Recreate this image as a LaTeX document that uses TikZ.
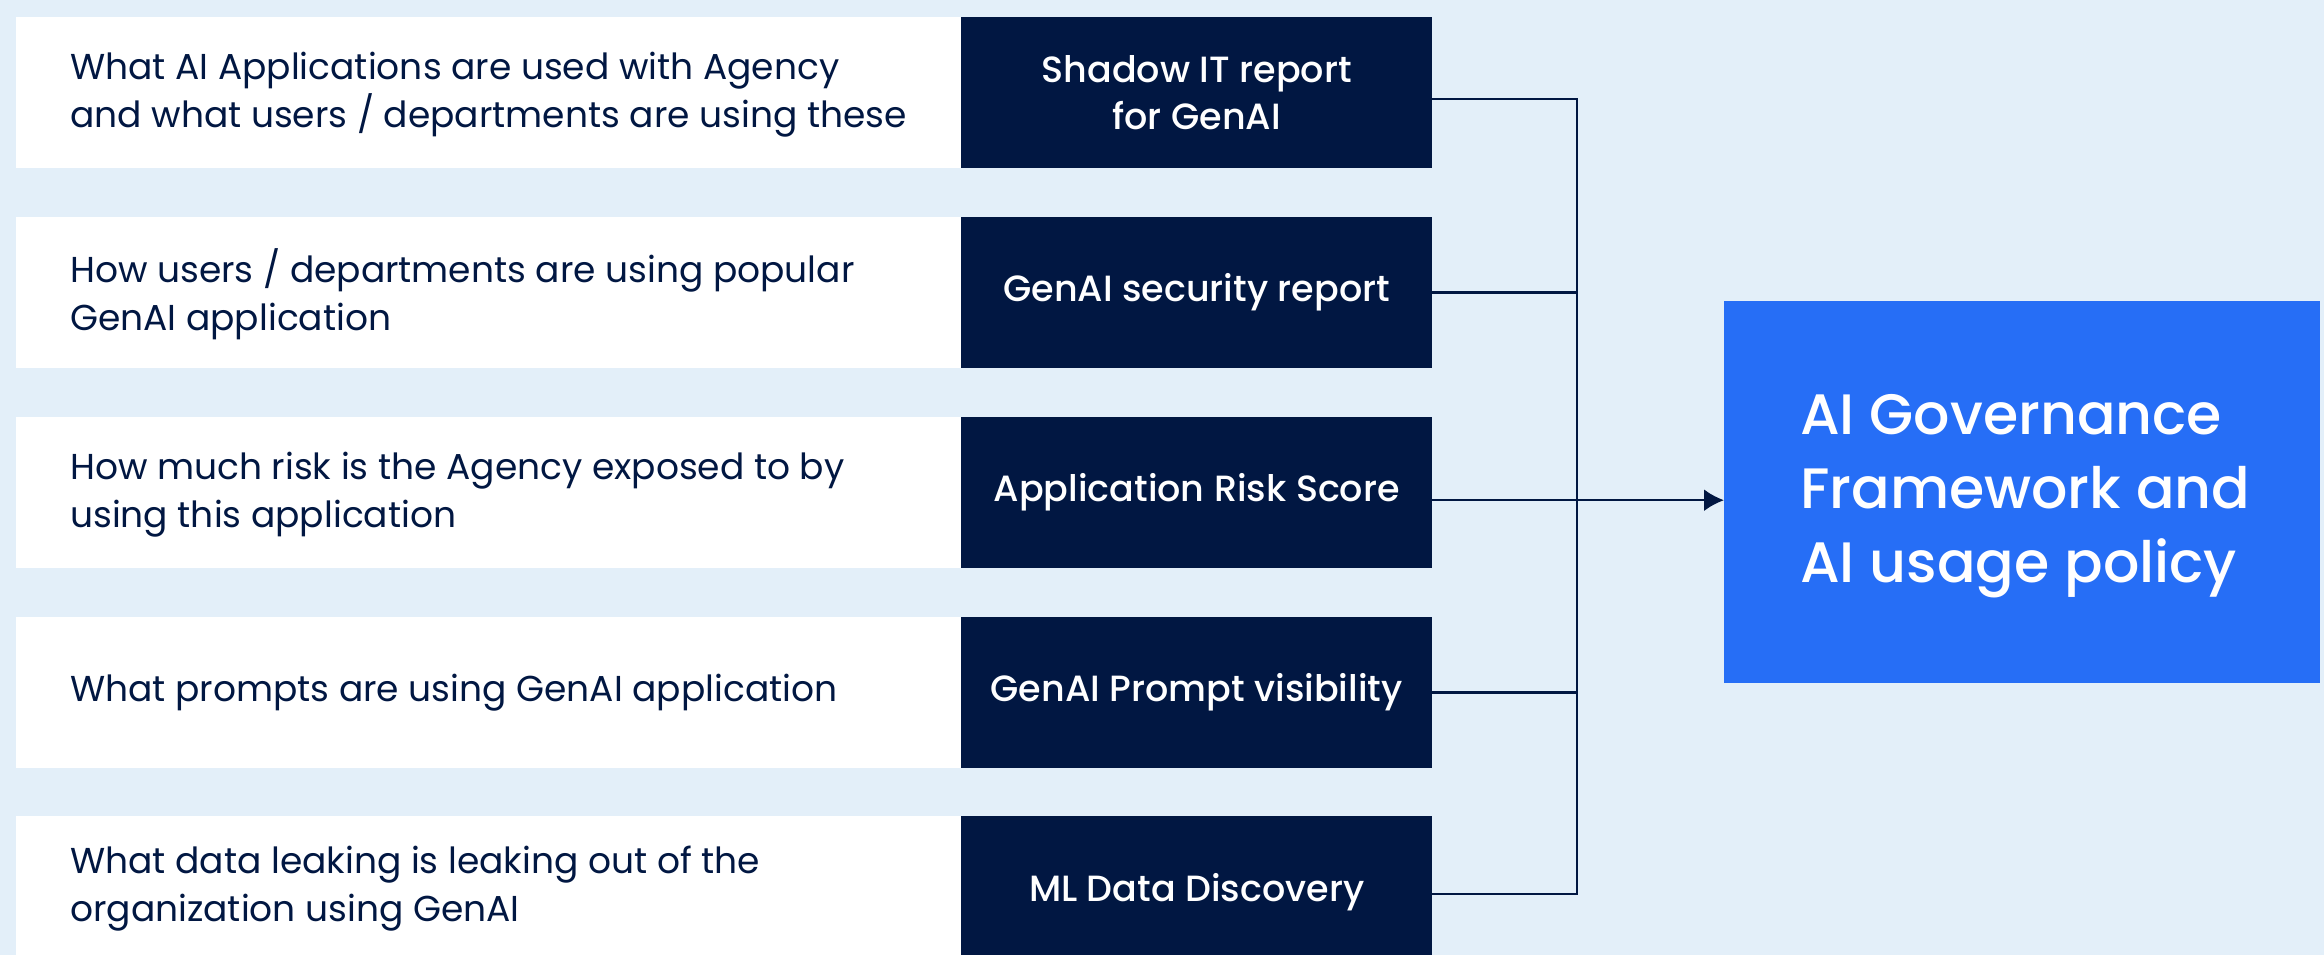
\documentclass[tikz,border=0pt]{standalone}
\usepackage{fontspec}
\usetikzlibrary{arrows.meta}
\setmainfont{Poppins}
\newfontfamily\medfont{Poppins Medium}
\definecolor{bg}{HTML}{E3EFF9}
\definecolor{navy}{HTML}{011742}
\definecolor{blueb}{HTML}{266EF6}
\tikzset{
  descbox/.style={fill=white, draw=none, minimum width=945pt, minimum height=151pt, anchor=north west, inner sep=0pt},
  darkbox/.style={fill=navy, draw=none, minimum width=471pt, minimum height=151pt, anchor=north west, inner sep=0pt,
     text=white, align=center, font=\medfont\fontsize{36.5}{47}\selectfont},
  desctext/.style={anchor=west, inner sep=0pt, align=left, text=navy, font=\fontsize{36}{48}\selectfont},
  bigbox/.style={fill=blueb, draw=none, minimum width=596pt, minimum height=382pt, anchor=north west, inner sep=0pt},
  bigtext/.style={anchor=west, inner sep=0pt, align=left, text=white, font=\medfont\fontsize{57}{74}\selectfont},
  conn/.style={draw=navy, line width=2.5pt},
}
\begin{document}
\begin{tikzpicture}[x=1pt,y=-1pt]
\useasboundingbox[fill=bg] (0,0) rectangle (2324,955);
% row 1
\node[descbox] (w1) at (16,17) {};
\node[darkbox] (d1) at (961,17) {Shadow IT report\\for GenAI};
\node[desctext] (t1) at (70,95) {What AI Applications are used with Agency\\and what users / departments are using these};
% row 2
\node[descbox] (w2) at (16,217) {};
\node[darkbox] (d2) at (961,217) {GenAI security report};
\node[desctext] (t2) at (70,294) {How users / departments are using popular\\GenAI application};
% row 3
\node[descbox] (w3) at (16,417) {};
\node[darkbox] (d3) at (961,417) {Application Risk Score};
\node[desctext] (t3) at (70,495) {How much risk is the Agency exposed to by\\using this application};
% row 4
\node[descbox] (w4) at (16,617) {};
\node[darkbox] (d4) at (961,617) {GenAI Prompt visibility};
\node[desctext] (t4) at (70,693) {What prompts are using GenAI application};
% row 5
\node[descbox] (w5) at (16,816) {};
\node[darkbox] (d5) at (961,816) {ML Data Discovery};
\node[desctext] (t5) at (70,889) {What data leaking is leaking out of the\\organization using GenAI};
% target
\node[bigbox] (g) at (1724,301) {};
\node[bigtext] (gt) at (1800,496) {AI Governance\\Framework and\\AI usage policy};
% connectors
\coordinate (jx) at (1577,0);
\draw[conn] ([yshift=-6.5pt]d1.east) -| ([yshift=-2.5pt]d5.east -| jx) -- ([yshift=-2.5pt]d5.east);
\draw[conn] (d2.east) -- (d2.east -| jx);
\draw[conn] (d4.east) -- (d4.east -| jx);
\draw[conn, -{Latex[length=20pt,width=22pt]}] ([yshift=-7.5pt]d3.east) -- ([yshift=-7.5pt]d3.east -| g.west);
\end{tikzpicture}
\end{document}
